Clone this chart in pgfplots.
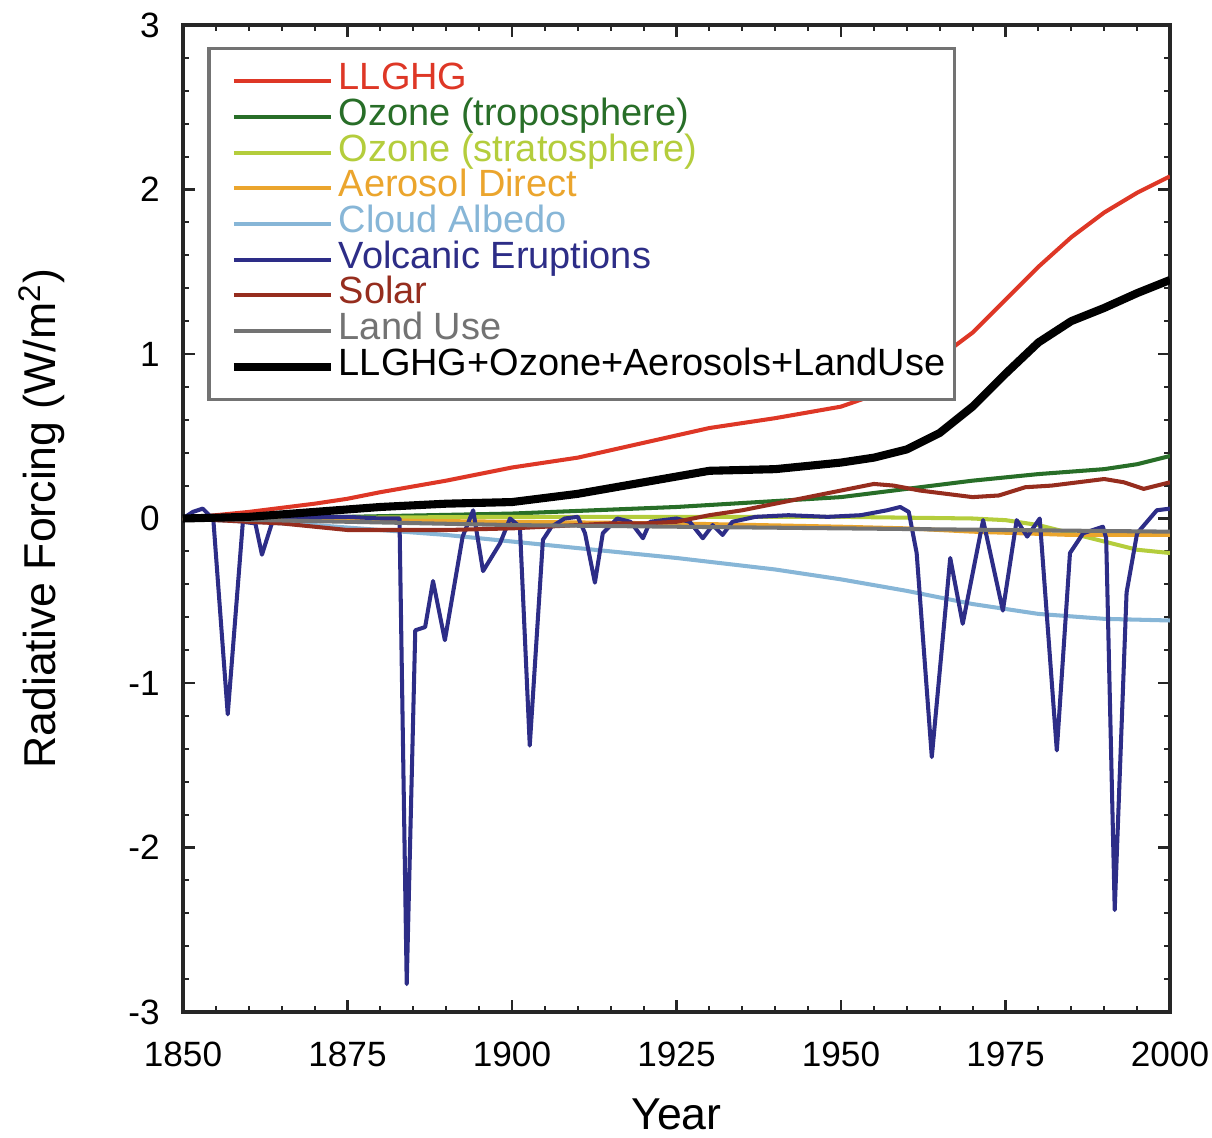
\documentclass[border=0pt]{standalone}
\usepackage{pgfplots}
\pgfplotsset{compat=1.18}
\usepackage{fontspec}
\setmainfont{Liberation Sans}
\definecolor{cllghg}{RGB}{222,55,38}
\definecolor{cozt}{RGB}{40,110,40}
\definecolor{cozs}{RGB}{180,205,60}
\definecolor{caer}{RGB}{235,165,45}
\definecolor{ccld}{RGB}{135,182,215}
\definecolor{cvol}{RGB}{45,45,135}
\definecolor{csol}{RGB}{150,45,30}
\definecolor{cland}{RGB}{115,115,115}
\begin{document}
\begin{tikzpicture}
\path[use as bounding box] (-18.3mm,-12.6mm) rectangle (102.9mm,101.2mm);
\begin{axis}[
  width=98.7mm, height=98.7mm, scale only axis,
  xmin=1850, xmax=2000, ymin=-3, ymax=3,
  xtick={1850,1875,1900,1925,1950,1975,2000},
  xticklabels={1850,1875,1900,1925,1950,1975,2000},
  ytick={-3,-2,-1,0,1,2,3},
  yticklabels={-3,-2,-1,0,1,2,3},
  minor x tick num=4, minor y tick num=4,
  major tick length=1.2mm, minor tick length=0.6mm,
  axis line style={line width=1pt, black!85},
  every tick/.style={black!85, line width=0.6pt},
  tick label style={font=\fontsize{10}{12}\selectfont},
  xticklabel style={yshift=-1.8mm},
  yticklabel style={xshift=-1.1mm},
  xlabel={Year},
  ylabel={Radiative Forcing (W/m\textsuperscript{2})},
  label style={font=\fontsize{12.7}{15}\selectfont},
  xlabel style={at={(axis description cs:0.5,-0.104)}, anchor=center},
  ylabel style={at={(axis description cs:-0.143,0.5)}, anchor=center},
  legend cell align=left,
  legend image code/.code={\path (0mm,0mm); \draw[#1] (1.2mm,0mm) -- (10.9mm,0mm);},
  legend style={at={(axis description cs:0.0243,0.978)}, anchor=north west,
    draw=black!55, line width=1pt, fill=white,
    font=\fontsize{10.8}{10}\selectfont,
    inner xsep=0.9mm, inner ysep=1.5mm, column sep=0.4mm, row sep=0pt,
    nodes={inner sep=0pt, text height=7.5pt, text depth=2.65pt}},
  every axis plot/.append style={line width=1.15pt, line join=round},
]
% LLGHG
\addplot[cllghg] coordinates {
(1850,0) (1860,0.04) (1870,0.09) (1875,0.12) (1880,0.16) (1890,0.23) (1900,0.31)
(1910,0.37) (1920,0.46) (1930,0.55) (1940,0.61) (1950,0.68) (1955,0.75) (1960,0.86)
(1965,0.98) (1970,1.13) (1975,1.33) (1980,1.53) (1985,1.71) (1990,1.86) (1995,1.98) (2000,2.08)};
\addlegendentry{\textcolor{cllghg}{LLGHG}}
% Ozone troposphere
\addplot[cozt] coordinates {
(1850,0) (1875,0.01) (1900,0.03) (1925,0.07) (1950,0.13) (1960,0.18) (1970,0.23)
(1980,0.27) (1990,0.30) (1995,0.33) (2000,0.38)};
\addlegendentry{\textcolor{cozt}{Ozone (troposphere)}}
% Ozone stratosphere
\addplot[cozs] coordinates {
(1850,0) (1900,0.01) (1950,0.01) (1970,0.0) (1975,-0.01) (1980,-0.04) (1985,-0.09)
(1990,-0.14) (1995,-0.19) (2000,-0.21)};
\addlegendentry{\textcolor{cozs}{Ozone (stratosphere)}}
% Aerosol direct
\addplot[caer] coordinates {
(1850,0) (1875,-0.01) (1900,-0.02) (1925,-0.03) (1950,-0.05) (1960,-0.06) (1970,-0.08)
(1985,-0.10) (2000,-0.10)};
\addlegendentry{\textcolor{caer}{Aerosol Direct}}
% Cloud albedo
\addplot[ccld] coordinates {
(1850,0) (1870,-0.04) (1890,-0.10) (1900,-0.14) (1910,-0.18) (1925,-0.24) (1940,-0.31)
(1950,-0.37) (1960,-0.44) (1970,-0.52) (1980,-0.58) (1990,-0.61) (2000,-0.62)};
\addlegendentry{\textcolor{ccld}{Cloud Albedo}}
% Volcanic
\addplot[cvol] coordinates {
(1850,0) (1851.5,0.04) (1853,0.06) (1854,0.02) (1854.6,0) (1856.8,-1.19) (1859.1,-0.02)
(1861,-0.03) (1862,-0.22) (1863.5,-0.03) (1866,0) (1870,0.01) (1875,0.01) (1880,0)
(1882.9,0) (1884,-2.83) (1885.3,-0.68) (1886.8,-0.66) (1888,-0.38) (1889.8,-0.74)
(1892.5,-0.11) (1894.1,0.05) (1895.6,-0.32) (1898.2,-0.15) (1899.7,0) (1901.2,-0.05)
(1902.7,-1.38) (1904.7,-0.13) (1906,-0.05) (1908,0) (1910,0.01) (1911.1,-0.09)
(1912.6,-0.39) (1913.8,-0.09) (1916,0) (1918,-0.02) (1919.9,-0.12) (1921,-0.02)
(1925,0) (1927,-0.02) (1929,-0.12) (1930.5,-0.04) (1932,-0.10) (1933.5,-0.02)
(1937,0.01) (1942,0.02) (1948,0.01) (1953,0.02) (1957,0.05) (1959,0.07) (1960.3,0.04)
(1961.5,-0.21) (1963.8,-1.45) (1966.6,-0.24) (1968.5,-0.64) (1971.6,-0.01)
(1974.6,-0.56) (1976.7,-0.01) (1978.3,-0.11) (1980.2,0) (1982.8,-1.41) (1984.8,-0.21)
(1986.8,-0.09) (1989.8,-0.05) (1990.3,-0.12) (1991.6,-2.38) (1993.4,-0.45)
(1995,-0.09) (1998,0.05) (2000,0.06)};
\addlegendentry{\textcolor{cvol}{Volcanic Eruptions}}
% Solar
\addplot[csol] coordinates {
(1850,0) (1855,-0.01) (1860,-0.02) (1865,-0.03) (1870,-0.05) (1875,-0.07) (1880,-0.07)
(1890,-0.07) (1900,-0.06) (1905,-0.05) (1910,-0.04) (1915,-0.03) (1920,-0.03)
(1925,-0.02) (1930,0.02) (1935,0.05) (1940,0.09) (1945,0.13) (1950,0.17) (1955,0.21)
(1958,0.20) (1962,0.17) (1966,0.15) (1970,0.13) (1974,0.14) (1978,0.19) (1982,0.20)
(1986,0.22) (1990,0.24) (1993,0.22) (1996,0.18) (2000,0.22)};
\addlegendentry{\textcolor{csol}{Solar}}
% Land use
\addplot[cland] coordinates {
(1850,0) (1875,-0.02) (1900,-0.04) (1925,-0.05) (1950,-0.06) (1975,-0.07) (2000,-0.08)};
\addlegendentry{\textcolor{cland}{Land Use}}
% Total
\addplot[black, line width=2.3pt] coordinates {
(1850,0) (1860,0.01) (1870,0.04) (1880,0.07) (1890,0.09) (1900,0.10) (1910,0.15)
(1920,0.22) (1930,0.29) (1940,0.30) (1950,0.34) (1955,0.37) (1960,0.42) (1965,0.52)
(1970,0.68) (1975,0.88) (1980,1.07) (1985,1.20) (1990,1.28) (1995,1.37) (2000,1.45)};
\addlegendentry{LLGHG+Ozone+Aerosols+LandUse}
\end{axis}
\end{tikzpicture}
\end{document}
